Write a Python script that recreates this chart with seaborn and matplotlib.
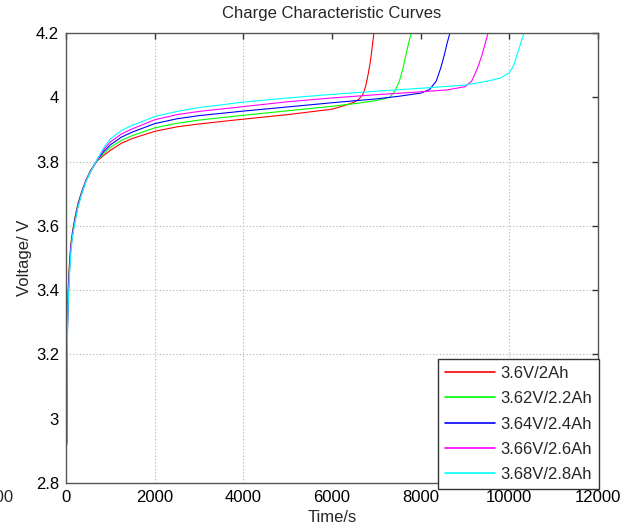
import pandas as pd
import matplotlib
matplotlib.use("Agg")
import matplotlib.pyplot as plt
from matplotlib.ticker import FormatStrFormatter
import seaborn as sns

# charge curves: time (s) and voltage (V) for each cell
labels = ["3.6V/2Ah", "3.62V/2.2Ah", "3.64V/2.4Ah", "3.66V/2.6Ah", "3.68V/2.8Ah"]
colors = ["#ff0000", "#00ff00", "#0000ff", "#ff00ff", "#00ffff"]

t_start = [15, 20, 28, 38, 52, 80, 110, 150, 200, 270, 350, 450, 550, 650, 700, 850]

t_red = t_start + [1000, 1250, 1500, 2000, 2500, 3000, 4000, 5000, 6000,
                   6300, 6500, 6600, 6700, 6760, 6820, 6870, 6910, 6945]
v_red = [2.92, 3.11, 3.25, 3.34, 3.41, 3.49, 3.545, 3.585, 3.625, 3.67, 3.705, 3.742, 3.771, 3.792,
         3.802, 3.819,
         3.835, 3.857, 3.872, 3.894, 3.908, 3.917, 3.932, 3.946, 3.963,
         3.975, 3.985, 3.993, 4.010, 4.035, 4.075, 4.115, 4.160, 4.200]

t_green = t_start + [1000, 1250, 1500, 2000, 2500, 3000, 4000, 5000, 6000, 6500, 7000,
                     7300, 7420, 7520, 7600, 7680, 7740, 7790]
v_green = [2.92, 3.10, 3.24, 3.33, 3.40, 3.48, 3.54, 3.582, 3.622, 3.667, 3.703, 3.741, 3.770, 3.792,
           3.803, 3.825,
           3.844, 3.866, 3.881, 3.905, 3.919, 3.929, 3.944, 3.958, 3.972, 3.980, 3.990,
           4.000, 4.020, 4.050, 4.090, 4.140, 4.175, 4.200]

t_blue = t_start + [1000, 1250, 1500, 2000, 2500, 3000, 4000, 5000, 6000, 7000, 7500, 8000,
                    8200, 8350, 8450, 8530, 8600, 8660]
v_blue = [2.92, 3.09, 3.23, 3.32, 3.39, 3.47, 3.535, 3.578, 3.618, 3.664, 3.701, 3.740, 3.769, 3.792,
          3.804, 3.831,
          3.852, 3.876, 3.892, 3.918, 3.933, 3.943, 3.957, 3.970, 3.983, 3.995, 4.003, 4.013,
          4.024, 4.050, 4.090, 4.130, 4.170, 4.200]

t_mag = t_start + [1000, 1250, 1500, 2000, 2500, 3000, 4000, 5000, 6000, 7000, 8000, 8600,
                   9000, 9150, 9280, 9380, 9460, 9520]
v_mag = [2.93, 3.08, 3.22, 3.31, 3.38, 3.46, 3.53, 3.574, 3.614, 3.661, 3.699, 3.739, 3.768, 3.792,
         3.805, 3.837,
         3.861, 3.886, 3.902, 3.930, 3.946, 3.956, 3.971, 3.986, 3.998, 4.008, 4.017, 4.023,
         4.033, 4.050, 4.090, 4.130, 4.170, 4.200]

t_cyan = t_start + [1000, 1250, 1500, 2000, 2500, 3000, 4000, 5000, 6000, 7000, 8000, 9000,
                    9500, 9800, 10000, 10100, 10180, 10260, 10330]
v_cyan = [2.94, 3.07, 3.21, 3.30, 3.37, 3.45, 3.52, 3.57, 3.61, 3.658, 3.697, 3.738, 3.767, 3.792,
          3.806, 3.843,
          3.870, 3.897, 3.913, 3.940, 3.956, 3.968, 3.985, 3.998, 4.009, 4.019, 4.028, 4.038,
          4.050, 4.060, 4.076, 4.100, 4.135, 4.170, 4.200]

times = [t_red, t_green, t_blue, t_mag, t_cyan]
volts = [v_red, v_green, v_blue, v_mag, v_cyan]

frames = []
for lab, t, v in zip(labels, times, volts):
    frames.append(pd.DataFrame({"time": t, "voltage": v, "cell": lab}))
df = pd.concat(frames, ignore_index=True)

sns.set_style("white")
plt.rcParams["font.family"] = ["Liberation Sans", "DejaVu Sans"]

fig = plt.figure(figsize=(6.31, 5.29), dpi=100)
ax = fig.add_axes([66 / 631, 46 / 529, 532 / 631, 450 / 529])

sns.lineplot(data=df, x="time", y="voltage", hue="cell", palette=colors,
             hue_order=labels, sort=False, estimator=None, linewidth=0.8, ax=ax)

ax.set_xlim(0, 12000)
ax.set_ylim(2.8, 4.2)
ax.set_xticks(range(0, 12001, 2000))
ax.set_yticks([2.8, 3.0, 3.2, 3.4, 3.6, 3.8, 4.0, 4.2])
ax.yaxis.set_major_formatter(FormatStrFormatter("%g"))
ax.tick_params(direction="in", length=4, width=1, labelsize=12, colors="#333333",
               labelcolor="black", top=True, right=True, pad=5)

ax.grid(True, linestyle=(0, (1, 2)), color="#b0b0b0", linewidth=0.8)
# only some grid lines survive in the reference picture
for i, g in enumerate(ax.xaxis.get_gridlines()):
    if i not in (1, 2, 5):
        g.set_visible(False)
for i, g in enumerate(ax.yaxis.get_gridlines()):
    if i not in (2, 3, 4, 5):
        g.set_visible(False)

for s in ax.spines.values():
    s.set_color("#555555")
    s.set_linewidth(1.0)

ax.set_title("Charge Characteristic Curves", fontsize=12, pad=11)
ax.set_xlabel("Time/s", fontsize=12, labelpad=4)
ax.set_ylabel("Voltage/ V", fontsize=12, labelpad=3)

leg = ax.legend(loc="upper left", bbox_to_anchor=(0.699, 0.2756), fontsize=12,
                frameon=True, fancybox=False, edgecolor="#333333", framealpha=1,
                handlelength=3.0, handletextpad=0.35, labelspacing=0.62,
                borderpad=0.42, borderaxespad=0)
leg.get_frame().set_linewidth(1.0)
for line in leg.get_lines():
    line.set_linewidth(1.2)

# stray tick label from a neighbouring plot, cut by the image edge
fig.text(13 / 631, 1 - 497 / 529, "2000", ha="right", va="center", fontsize=12)

fig.savefig("out.png", dpi=100)
